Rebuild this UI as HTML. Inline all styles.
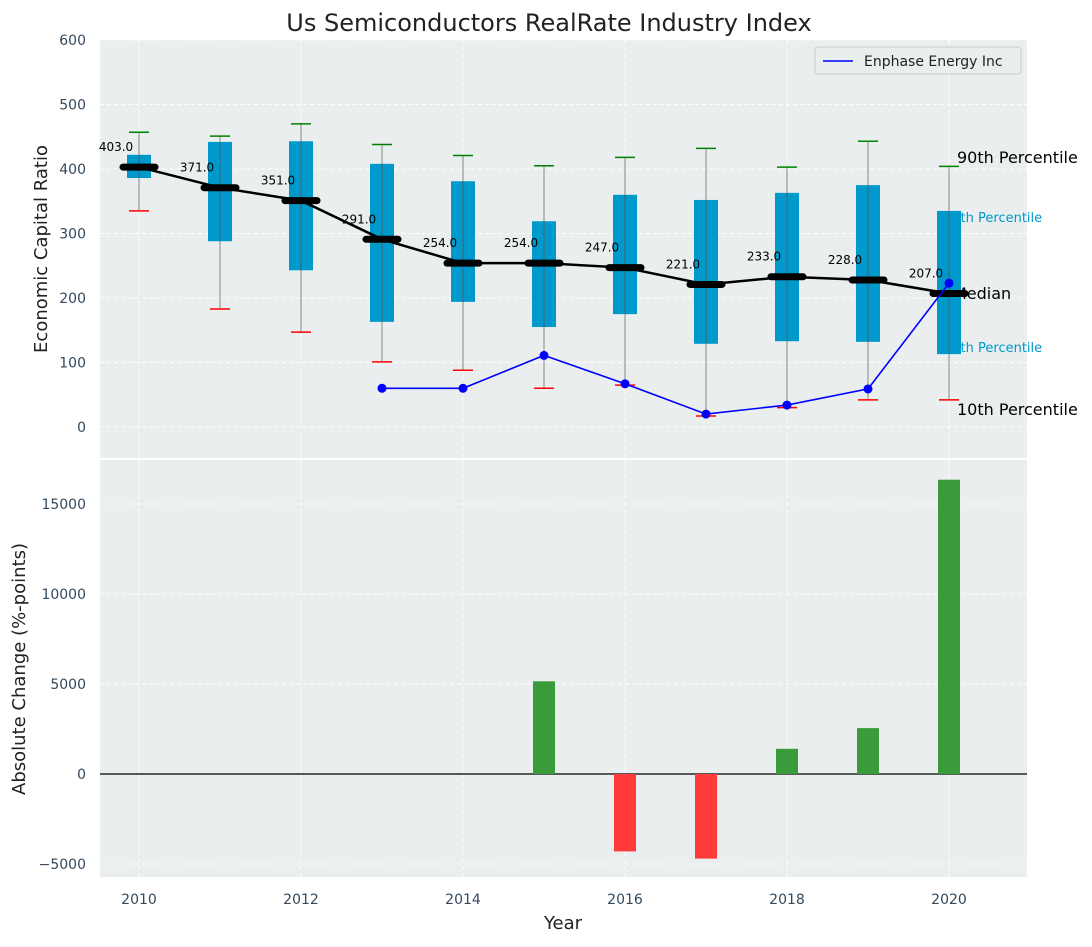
<!DOCTYPE html>
<html><head><meta charset="utf-8"><style>
body{margin:0;background:#fff;}
svg{font-family:"DejaVu Sans","Liberation Sans",sans-serif;}
</style></head><body>
<svg id="c" width="1092" height="942"></svg>
<script>
const years=[2010,2011,2012,2013,2014,2015,2016,2017,2018,2019,2020];
const p10=[335,183,147,101,88,60,65,17,30,42,42];
const p25=[386,288,243,163,194,155,175,129,133,132,113];
const medians=[403,371,351,291,254,254,247,221,233,228,207];
const p75=[422,442,443,408,381,319,360,352,363,375,335];
const p90=[457,451,470,438,421,405,418,432,403,443,404];
const lineYears=[2013,2014,2015,2016,2017,2018,2019,2020];
const enphase=[60,60,111,67,20,34,59,223];
const barYears=[2015,2016,2017,2018,2019,2020];
const changes=[5150,-4300,-4700,1400,2550,16350];
const topTicks=[0,100,200,300,400,500,600];
const botTicks=[-5000,0,5000,10000,15000];
const xTicks=[2010,2012,2014,2016,2018,2020];

const NS='http://www.w3.org/2000/svg';
const svg=document.getElementById('c');
function el(t,a,parent){const e=document.createElementNS(NS,t);for(const k in a)e.setAttribute(k,a[k]);(parent||svg).appendChild(e);return e;}
const X=y=>139+(y-2010)*81;
const Y1=v=>427-0.645*v;
const Y2=v=>774-0.018*v;

let t=el('text',{x:549,y:31,'text-anchor':'middle','font-size':24,fill:'#222'});t.textContent='Us Semiconductors RealRate Industry Index';


let p=el('rect',{x:100,y:40,width:927,height:418,fill:'#eaeeee'});

p=el('rect',{x:100,y:460,width:927,height:417,fill:'#eaeeee'});


for(const y of xTicks){
  for(const [a,b] of [[40,458],[460,877]]){
    const g=el('line',{x1:X(y),x2:X(y),y1:a,y2:b,stroke:'#fff','stroke-dasharray':'4,3','stroke-width':1});
    
  }
  const tx=el('text',{x:X(y),y:904,'text-anchor':'middle','font-size':14,fill:'#34495e'});tx.textContent=y;
  
}
for(const v of topTicks){
  const g=el('line',{x1:100,x2:1027,y1:Y1(v),y2:Y1(v),stroke:'#fff','stroke-dasharray':'4,3'});
  
  const tx=el('text',{x:86,y:Y1(v)+5,'text-anchor':'end','font-size':14,fill:'#34495e'});tx.textContent=v;
  
}
for(const v of botTicks){
  const g=el('line',{x1:100,x2:1027,y1:Y2(v),y2:Y2(v),stroke:'#fff','stroke-dasharray':'4,3'});
  
  const tx=el('text',{x:86,y:Y2(v)+5,'text-anchor':'end','font-size':14,fill:'#34495e'});tx.textContent=v<0?'\u2212'+(-v):v;
  
}

t=el('text',{x:47,y:249,'text-anchor':'middle','font-size':18,fill:'#222',transform:'rotate(-90 47 249)'});t.textContent='Economic Capital Ratio';

t=el('text',{x:25,y:669,'text-anchor':'middle','font-size':18,fill:'#222',transform:'rotate(-90 25 669)'});t.textContent='Absolute Change (%-points)';

t=el('text',{x:563,y:929,'text-anchor':'middle','font-size':18,fill:'#222'});t.textContent='Year';


const rl=[['90th Percentile',957,163,16,'#000'],['75th Percentile',944,222,13,'#0099cc'],['Median',953,299,16,'#000'],['25th Percentile',944,352,13,'#0099cc'],['10th Percentile',957,415,16,'#000']];
for(const [s,x,y,f,c] of rl){const e=el('text',{x:x,y:y,'font-size':f,fill:c});e.textContent=s;
  }

years.forEach((yr,i)=>{
  const x=X(yr);
  const w=el('line',{x1:x,x2:x,y1:Y1(p90[i]),y2:Y1(p10[i]),stroke:'#888','stroke-width':1});
  
  const b=el('rect',{x:x-12,y:Y1(p75[i]),width:24,height:Y1(p25[i])-Y1(p75[i]),fill:'#0099cc'});
  
  const m=el('line',{x1:x,x2:x,y1:Y1(p75[i]),y2:Y1(p25[i]),stroke:'#555','stroke-width':0.8});
  
  const ct=el('line',{x1:x-10,x2:x+10,y1:Y1(p90[i]),y2:Y1(p90[i]),stroke:'green','stroke-width':1.5});
  
  const cb=el('line',{x1:x-10,x2:x+10,y1:Y1(p10[i]),y2:Y1(p10[i]),stroke:'red','stroke-width':1.5});
  
});
let pts=years.map((y,i)=>X(y)+','+Y1(medians[i])).join(' ');
let ml=el('polyline',{points:pts,fill:'none',stroke:'#000','stroke-width':2.5});

years.forEach((yr,i)=>{
  const x=X(yr),y=Y1(medians[i]);
  const s=el('line',{x1:x-16,x2:x+16,y1:y,y2:y,stroke:'#000','stroke-width':7,'stroke-linecap':'round'});
  
  const tx=el('text',{x:x-23,y:y-16,'text-anchor':'middle','font-size':12,fill:'#000'});tx.textContent=medians[i].toFixed(1);
  
});
pts=lineYears.map((y,i)=>X(y)+','+Y1(enphase[i])).join(' ');
let el2=el('polyline',{points:pts,fill:'none',stroke:'#0000ff','stroke-width':1.6});

lineYears.forEach((yr,i)=>{const c=el('circle',{cx:X(yr),cy:Y1(enphase[i]),r:4.5,fill:'#0000ff'});
  });

const lg=el('g',{});
el('rect',{x:815,y:47,width:206,height:27,fill:'#eaeeee',stroke:'#ccc',rx:3},lg);
el('line',{x1:823,x2:853,y1:61,y2:61,stroke:'#0000ff','stroke-width':1.6},lg);
t=el('text',{x:864,y:66,'font-size':14,fill:'#222'},lg);t.textContent='Enphase Energy Inc';

const zl=el('line',{x1:100,x2:1027,y1:Y2(0),y2:Y2(0),stroke:'#000','stroke-width':1.2});

barYears.forEach((yr,i)=>{
  const v=changes[i];
  const r=el('rect',{x:X(yr)-11,y:Math.min(Y2(v),Y2(0)),width:22,height:Math.abs(Y2(v)-Y2(0)),fill:v>=0?'#3a9b3a':'#ff3b3b'});
  
});
</script>
</body></html>
